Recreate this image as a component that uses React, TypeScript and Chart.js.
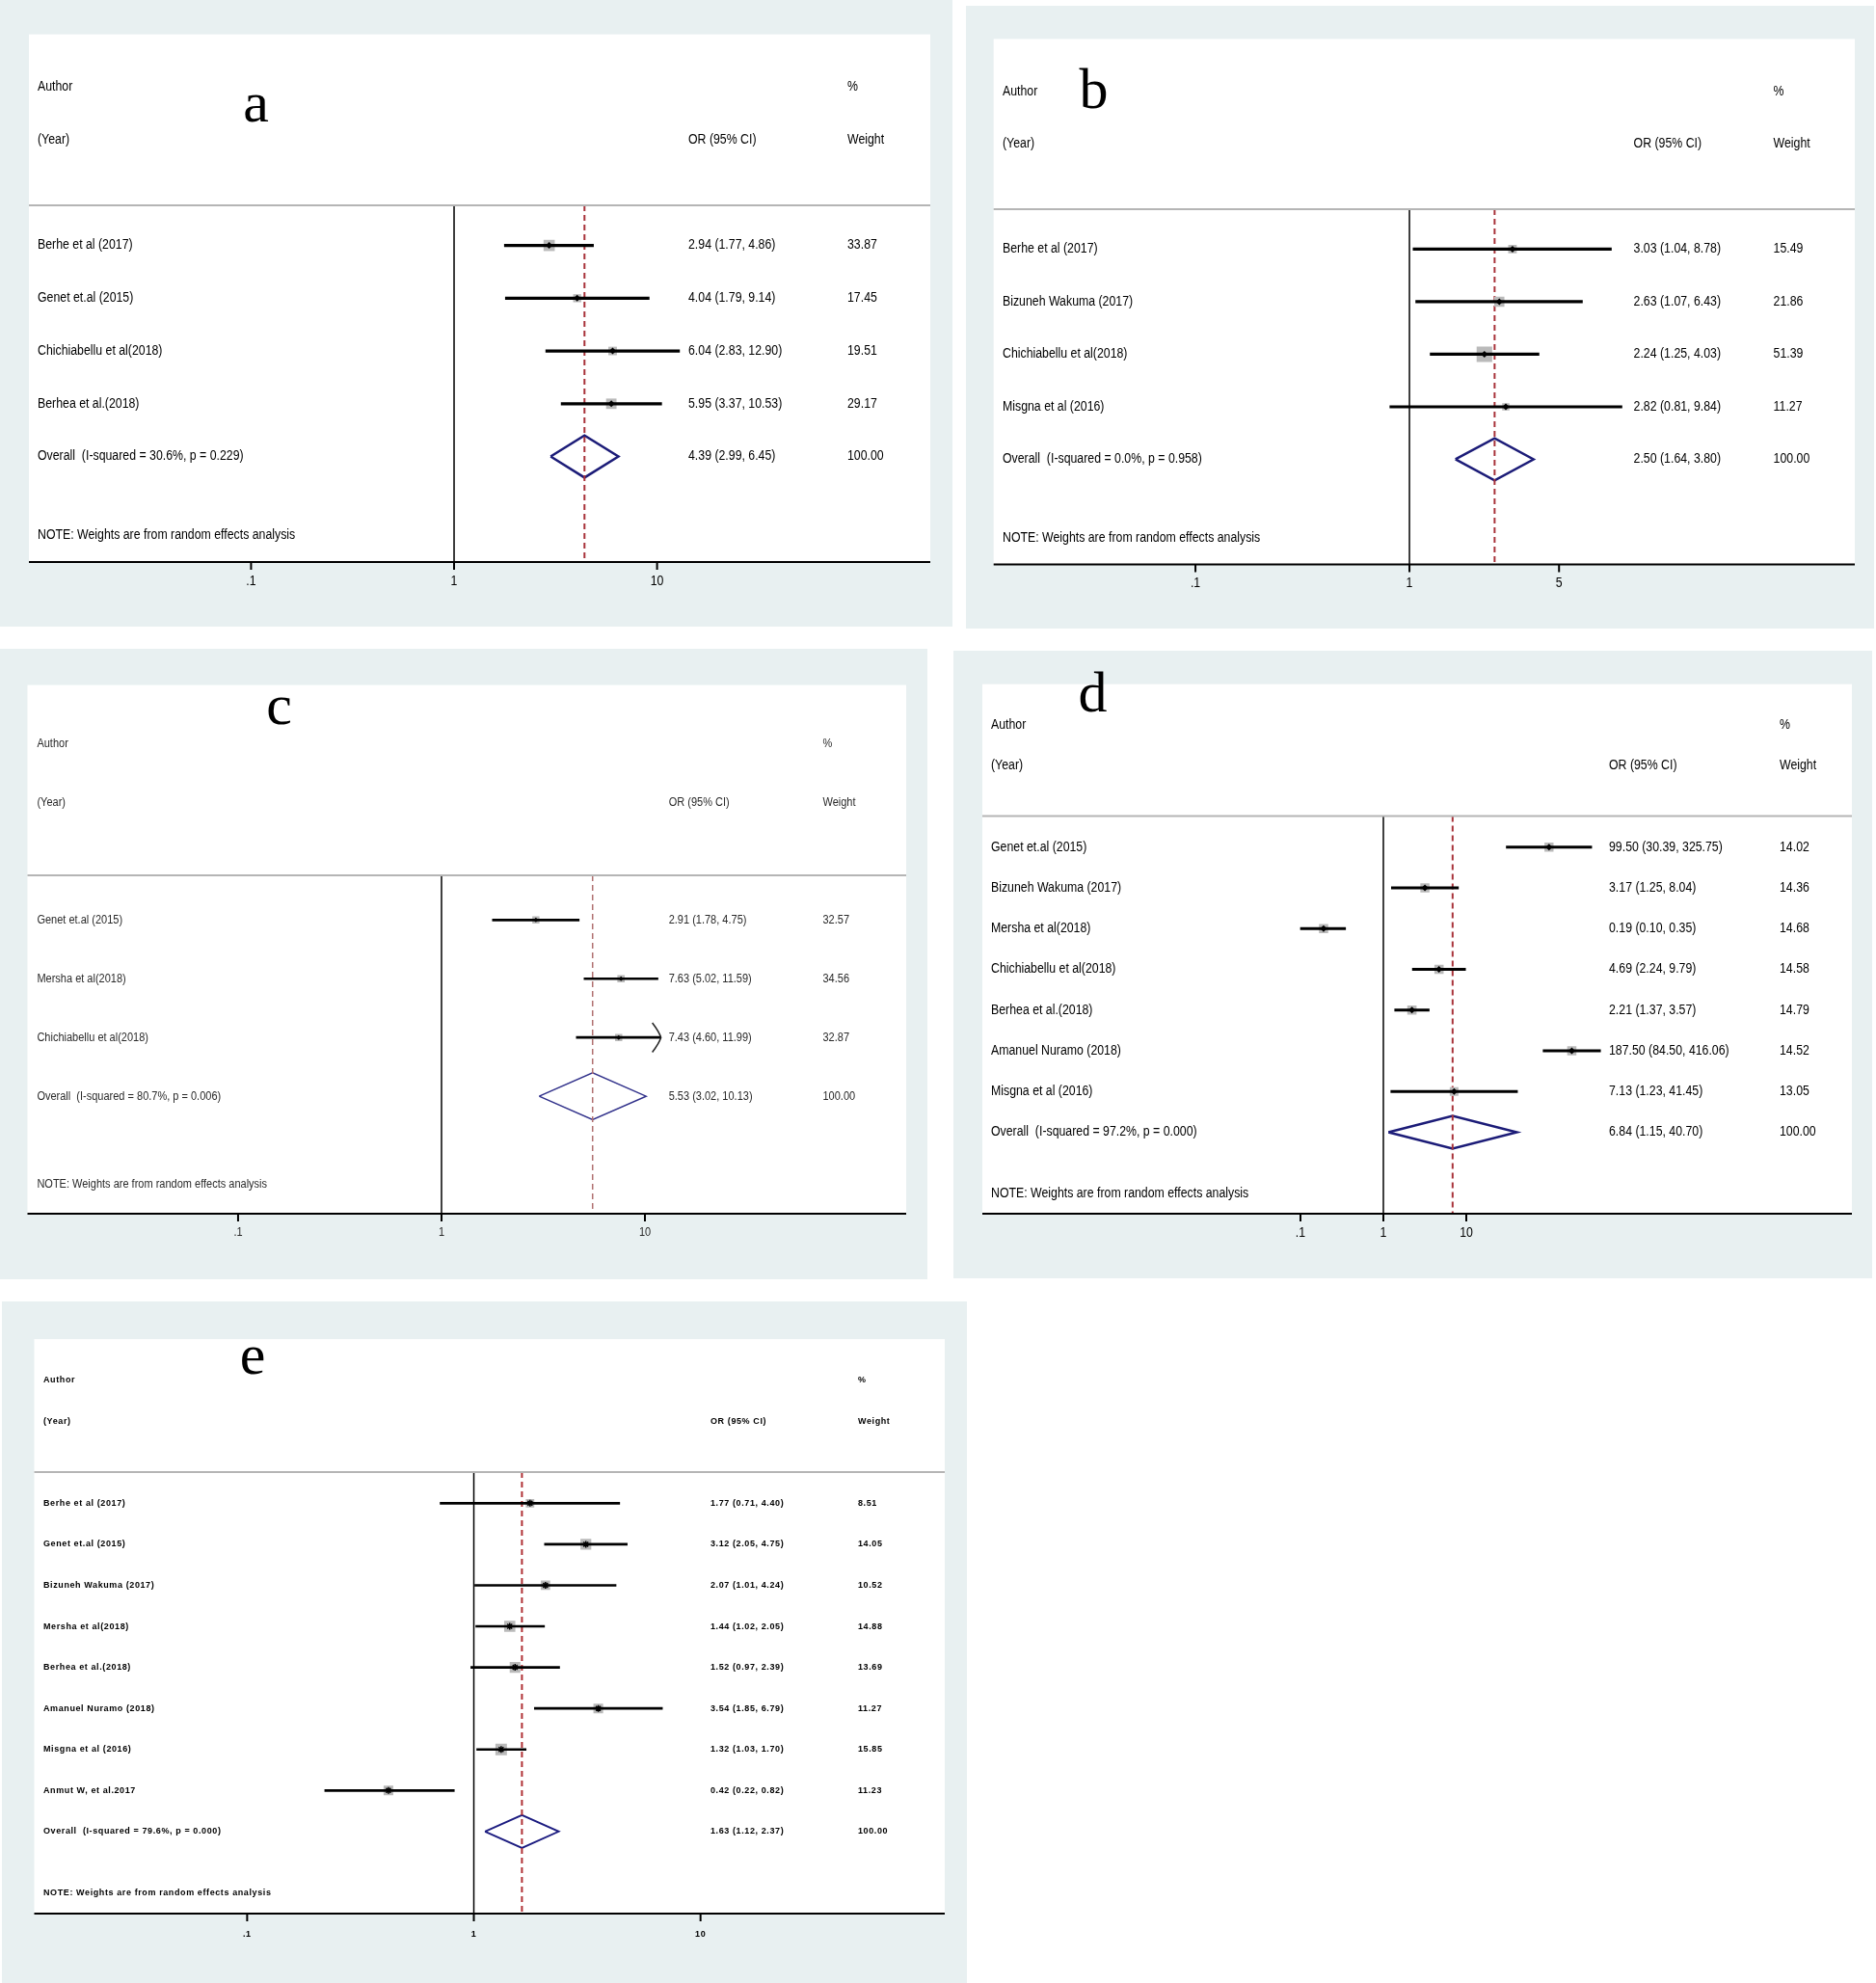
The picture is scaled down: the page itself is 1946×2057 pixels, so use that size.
import React, { useEffect, useRef } from "react";
import { Chart, registerables } from "chart.js";

Chart.register(...registerables);

// ---------------- data ----------------
const headerAuthor = ["Author", "(Year)"];
const headerOr = "OR (95% CI)";
const headerWeight = ["%", "Weight"];
const noteText = "NOTE: Weights are from random effects analysis";
const overallWeightLabel = "100.00";

const authorsA = ["Berhe et al (2017)", "Genet et.al (2015)", "Chichiabellu et al(2018)", "Berhea et al.(2018)"];
const orA = [2.94, 4.04, 6.04, 5.95];
const lowerA = [1.77, 1.79, 2.83, 3.37];
const upperA = [4.86, 9.14, 12.9, 10.53];
const weightA = [33.87, 17.45, 19.51, 29.17];
const overallA = [4.39, 2.99, 6.45];
const hetA = ["30.6%", "0.229"];
const ticksA = [0.1, 1, 10];
const tickLabelsA = [".1", "1", "10"];

const authorsB = ["Berhe et al (2017)", "Bizuneh Wakuma (2017)", "Chichiabellu et al(2018)", "Misgna et al (2016)"];
const orB = [3.03, 2.63, 2.24, 2.82];
const lowerB = [1.04, 1.07, 1.25, 0.81];
const upperB = [8.78, 6.43, 4.03, 9.84];
const weightB = [15.49, 21.86, 51.39, 11.27];
const overallB = [2.5, 1.64, 3.8];
const hetB = ["0.0%", "0.958"];
const ticksB = [0.1, 1, 5];
const tickLabelsB = [".1", "1", "5"];

const authorsC = ["Genet et.al (2015)", "Mersha et al(2018)", "Chichiabellu et al(2018)"];
const orC = [2.91, 7.63, 7.43];
const lowerC = [1.78, 5.02, 4.6];
const upperC = [4.75, 11.59, 11.99];
const weightC = [32.57, 34.56, 32.87];
const overallC = [5.53, 3.02, 10.13];
const hetC = ["80.7%", "0.006"];
const arrowsC = [false, false, true];
const ticksC = [0.1, 1, 10];
const tickLabelsC = [".1", "1", "10"];

const authorsD = [
  "Genet et.al (2015)",
  "Bizuneh Wakuma (2017)",
  "Mersha et al(2018)",
  "Chichiabellu et al(2018)",
  "Berhea et al.(2018)",
  "Amanuel Nuramo (2018)",
  "Misgna et al (2016)",
];
const orD = [99.5, 3.17, 0.19, 4.69, 2.21, 187.5, 7.13];
const lowerD = [30.39, 1.25, 0.1, 2.24, 1.37, 84.5, 1.23];
const upperD = [325.75, 8.04, 0.35, 9.79, 3.57, 416.06, 41.45];
const weightD = [14.02, 14.36, 14.68, 14.58, 14.79, 14.52, 13.05];
const overallD = [6.84, 1.15, 40.7];
const hetD = ["97.2%", "0.000"];
const ticksD = [0.1, 1, 10];
const tickLabelsD = [".1", "1", "10"];

const authorsE = [
  "Berhe et al (2017)",
  "Genet et.al (2015)",
  "Bizuneh Wakuma (2017)",
  "Mersha et al(2018)",
  "Berhea et al.(2018)",
  "Amanuel Nuramo (2018)",
  "Misgna et al (2016)",
  "Anmut W, et al.2017",
];
const orE = [1.77, 3.12, 2.07, 1.44, 1.52, 3.54, 1.32, 0.42];
const lowerE = [0.71, 2.05, 1.01, 1.02, 0.97, 1.85, 1.03, 0.22];
const upperE = [4.4, 4.75, 4.24, 2.05, 2.39, 6.79, 1.7, 0.82];
const weightE = [8.51, 14.05, 10.52, 14.88, 13.69, 11.27, 15.85, 11.23];
const overallE = [1.63, 1.12, 2.37];
const hetE = ["79.6%", "0.000"];
const ticksE = [0.1, 1, 10];
const tickLabelsE = [".1", "1", "10"];

// ---------------- styling / layout ----------------
const BG = "#e8f0f1";
const BOX_FILL = "#bababa";
const WHITE_ROW = -3;
const AUTHOR_ROW = -2;
const YEAR_ROW = -1;
const Y_MIN = 0.24;
const DIAMOND_HALF = 0.4;
const TICK_LEN = 8;

type Spec = {
  key: string;
  letter: string;
  authors: string[];
  or: number[];
  lo: number[];
  hi: number[];
  weight: number[];
  overall: number[];
  het: string[];
  ticks: number[];
  tickLabels: string[];
  arrows?: boolean[];
  left: number;
  top: number;
  width: number;
  height: number;
  pad: { left: number; right: number; top: number; bottom: number };
  xMin: number;
  xMax: number;
  colAuthor: number;
  colOr: number;
  colWeight: number;
  letterX: number;
  letterBase: number;
  font: string;
  scaleX: number;
  letterSpacing: string;
  textColor: string;
  boxK: number;
  ciWidth: number;
  diamondWidth: number;
  diamondColor: string;
  refColor: string;
  refWidth: number;
  dot: string;
  dotRadius: number;
  tickGap: number;
};

const baseStyle = {
  font: '14px "Liberation Sans", Arial, sans-serif',
  scaleX: 0.88,
  letterSpacing: "0px",
  textColor: "#000000",
  ciWidth: 2.5,
  diamondWidth: 2.5,
  diamondColor: "#1c1c78",
  refColor: "#a8323a",
  refWidth: 2,
  dot: "rectRot",
  dotRadius: 3.5,
  tickGap: 20,
};

const panels: Spec[] = [
  {
    ...baseStyle,
    key: "a", letter: "a",
    authors: authorsA, or: orA, lo: lowerA, hi: upperA, weight: weightA,
    overall: overallA, het: hetA, ticks: ticksA, tickLabels: tickLabelsA,
    left: 0, top: 0, width: 988, height: 650,
    pad: { left: 30, right: 23, top: 213, bottom: 67 },
    xMin: 0.00805, xMax: 221.7,
    colAuthor: 39, colOr: 714, colWeight: 879,
    letterX: 265.5, letterBase: 126,
    boxK: 2.0,
  },
  {
    ...baseStyle,
    key: "b", letter: "b",
    authors: authorsB, or: orB, lo: lowerB, hi: upperB, weight: weightB,
    overall: overallB, het: hetB, ticks: ticksB, tickLabels: tickLabelsB,
    left: 1002, top: 6, width: 942, height: 646,
    pad: { left: 28.7, right: 20, top: 211, bottom: 66.5 },
    xMin: 0.0114, xMax: 120.5,
    colAuthor: 38, colOr: 692.6, colWeight: 837.6,
    letterX: 132.5, letterBase: 105.6,
    boxK: 2.25,
  },
  {
    ...baseStyle,
    key: "c", letter: "c",
    authors: authorsC, or: orC, lo: lowerC, hi: upperC, weight: weightC,
    overall: overallC, het: hetC, ticks: ticksC, tickLabels: tickLabelsC, arrows: arrowsC,
    left: 0, top: 673, width: 962, height: 654,
    pad: { left: 28.5, right: 22, top: 235, bottom: 68 },
    xMin: 0.00922, xMax: 192.4,
    colAuthor: 38.4, colOr: 693.7, colWeight: 853.5,
    letterX: 289.5, letterBase: 78,
    font: '12.5px "Liberation Sans", Arial, sans-serif',
    textColor: "#2a2a2a",
    boxK: 1.3, ciWidth: 2, diamondWidth: 1.5, diamondColor: "#30308a",
    refColor: "#b07070", refWidth: 1.5, dotRadius: 2.5,
  },
  {
    ...baseStyle,
    key: "d", letter: "d",
    authors: authorsD, or: orD, lo: lowerD, hi: upperD, weight: weightD,
    overall: overallD, het: hetD, ticks: ticksD, tickLabels: tickLabelsD,
    left: 989, top: 675, width: 953, height: 651,
    pad: { left: 30, right: 21, top: 171.6, bottom: 67 },
    xMin: 1.455e-5, xMax: 4.48e5,
    colAuthor: 39, colOr: 680, colWeight: 857,
    letterX: 144.5, letterBase: 63.4,
    boxK: 2.5,
  },
  {
    ...baseStyle,
    key: "e", letter: "e",
    authors: authorsE, or: orE, lo: lowerE, hi: upperE, weight: weightE,
    overall: overallE, het: hetE, ticks: ticksE, tickLabels: tickLabelsE,
    left: 2, top: 1350, width: 1001, height: 707,
    pad: { left: 33.5, right: 23, top: 177, bottom: 72 },
    xMin: 0.0115, xMax: 119.5,
    colAuthor: 43, colOr: 735, colWeight: 888,
    letterX: 260, letterBase: 75,
    font: 'bold 9px "Liberation Sans", Arial, sans-serif',
    scaleX: 1, letterSpacing: "0.6px",
    boxK: 3.0, ciWidth: 2, diamondWidth: 1.8, diamondColor: "#1c1c80",
    refColor: "#b03034", refWidth: 2, dot: "star", dotRadius: 3.5, tickGap: 22,
  },
];

const fmt = (v: number) => v.toFixed(2);

function drawText(ctx: CanvasRenderingContext2D, s: string, x: number, y: number, p: Spec, align: CanvasTextAlign = "left") {
  ctx.save();
  ctx.font = p.font;
  (ctx as any).letterSpacing = p.letterSpacing;
  ctx.fillStyle = p.textColor;
  ctx.textBaseline = "middle";
  ctx.textAlign = align;
  ctx.translate(x, y);
  ctx.scale(p.scaleX, 1);
  ctx.fillText(s, 0, 0);
  ctx.restore();
}

function ForestPanel({ p }: { p: Spec }) {
  const ref = useRef<HTMLCanvasElement>(null);

  useEffect(() => {
    const canvas = ref.current;
    if (!canvas) return;
    const n = p.or.length;
    const rows = p.or.map((_, i) => i + 1);
    const overallRow = n + 1;
    const noteRow = n + 2.5;
    const yMax = n + 3;
    const [ovEst, ovLo, ovHi] = p.overall;

    const plugin = {
      id: "forest_" + p.key,
      beforeDraw(chart: any) {
        const { ctx, chartArea: ca } = chart;
        const y = chart.scales.y;
        ctx.save();
        ctx.fillStyle = BG;
        ctx.fillRect(0, 0, chart.width, chart.height);
        const top = y.getPixelForValue(WHITE_ROW);
        ctx.fillStyle = "#ffffff";
        ctx.fillRect(ca.left, top, ca.right - ca.left, ca.bottom - top);
        ctx.restore();
      },
      afterDraw(chart: any) {
        const { ctx, chartArea: ca } = chart;
        const x = chart.scales.x;
        const y = chart.scales.y;
        ctx.save();
        // header rule
        ctx.strokeStyle = "#b5b5b5";
        ctx.lineWidth = 2;
        ctx.beginPath();
        ctx.moveTo(ca.left, ca.top);
        ctx.lineTo(ca.right, ca.top);
        ctx.stroke();
        // x axis
        ctx.strokeStyle = "#000";
        ctx.lineWidth = 2;
        ctx.beginPath();
        ctx.moveTo(ca.left, ca.bottom);
        ctx.lineTo(ca.right, ca.bottom);
        ctx.stroke();
        p.ticks.forEach((t, i) => {
          const px = x.getPixelForValue(t);
          ctx.beginPath();
          ctx.moveTo(px, ca.bottom);
          ctx.lineTo(px, ca.bottom + TICK_LEN);
          ctx.stroke();
          drawText(ctx, p.tickLabels[i], px, ca.bottom + p.tickGap, p, "center");
        });
        // arrows for clipped CIs
        if (p.arrows) {
          ctx.strokeStyle = "#222";
          ctx.lineWidth = 1.5;
          p.arrows.forEach((a, i) => {
            if (!a) return;
            const px = x.getPixelForValue(p.hi[i]);
            const py = y.getPixelForValue(rows[i]);
            const dy = y.getPixelForValue(rows[i] + 0.25) - py;
            ctx.beginPath();
            ctx.moveTo(px - 9, py - dy);
            ctx.quadraticCurveTo(px - 2, py - dy * 0.4, px, py);
            ctx.quadraticCurveTo(px - 2, py + dy * 0.4, px - 9, py + dy);
            ctx.stroke();
          });
        }
        // header texts
        const yA = y.getPixelForValue(AUTHOR_ROW);
        const yY = y.getPixelForValue(YEAR_ROW);
        drawText(ctx, headerAuthor[0], p.colAuthor, yA, p);
        drawText(ctx, headerAuthor[1], p.colAuthor, yY, p);
        drawText(ctx, headerOr, p.colOr, yY, p);
        drawText(ctx, headerWeight[0], p.colWeight, yA, p);
        drawText(ctx, headerWeight[1], p.colWeight, yY, p);
        // study rows
        rows.forEach((r, i) => {
          const py = y.getPixelForValue(r);
          drawText(ctx, p.authors[i], p.colAuthor, py, p);
          drawText(ctx, `${fmt(p.or[i])} (${fmt(p.lo[i])}, ${fmt(p.hi[i])})`, p.colOr, py, p);
          drawText(ctx, fmt(p.weight[i]), p.colWeight, py, p);
        });
        // overall
        const po = y.getPixelForValue(overallRow);
        drawText(ctx, `Overall  (I-squared = ${p.het[0]}, p = ${p.het[1]})`, p.colAuthor, po, p);
        drawText(ctx, `${fmt(ovEst)} (${fmt(ovLo)}, ${fmt(ovHi)})`, p.colOr, po, p);
        drawText(ctx, overallWeightLabel, p.colWeight, po, p);
        // note
        drawText(ctx, noteText, p.colAuthor, y.getPixelForValue(noteRow), p);
        // panel letter
        ctx.font = '60px "Liberation Serif", "Times New Roman", serif';
        (ctx as any).letterSpacing = "0px";
        ctx.fillStyle = "#000";
        ctx.textAlign = "center";
        ctx.textBaseline = "alphabetic";
        ctx.fillText(p.letter, p.letterX, p.letterBase);
        ctx.restore();
      },
    };

    const chart = new Chart(canvas, {
      type: "scatter",
      data: {
        datasets: [
          {
            type: "scatter",
            label: "OR",
            data: rows.map((r, i) => ({ x: p.or[i], y: r })),
            pointStyle: p.dot as any,
            pointRadius: p.dotRadius,
            backgroundColor: "#000",
            borderColor: "#000",
            borderWidth: p.dot === "star" ? 1.5 : 0,
          },
          {
            type: "bar",
            label: "95% CI",
            indexAxis: "y",
            data: rows.map((r, i) => ({ x: [p.lo[i], p.hi[i]], y: r })) as any,
            backgroundColor: "#000",
            borderWidth: 0,
            barThickness: p.ciWidth,
          } as any,
          {
            type: "scatter",
            label: "Weight",
            data: rows.map((r, i) => ({ x: p.or[i], y: r })),
            pointStyle: "rect",
            pointRadius: p.weight.map((w) => (p.boxK * Math.sqrt(w)) / Math.SQRT2),
            backgroundColor: BOX_FILL,
            borderWidth: 0,
          },
          {
            type: "line",
            label: "Overall estimate",
            data: [
              { x: ovEst, y: Y_MIN },
              { x: ovEst, y: yMax },
            ],
            borderColor: p.refColor,
            borderWidth: p.refWidth,
            borderDash: [6, 4],
            pointRadius: 0,
            fill: false,
          },
          {
            type: "line",
            label: "Overall",
            data: [
              { x: ovLo, y: overallRow },
              { x: ovEst, y: overallRow - DIAMOND_HALF },
              { x: ovHi, y: overallRow },
              { x: ovEst, y: overallRow + DIAMOND_HALF },
              { x: ovLo, y: overallRow },
            ],
            borderColor: p.diamondColor,
            borderWidth: p.diamondWidth,
            borderJoinStyle: "miter",
            pointRadius: 0,
            tension: 0,
            fill: false,
          },
          {
            type: "line",
            label: "No effect",
            data: [
              { x: 1, y: Y_MIN },
              { x: 1, y: yMax },
            ],
            borderColor: "#000",
            borderWidth: 1.5,
            pointRadius: 0,
            fill: false,
          },
        ],
      },
      options: {
        responsive: false,
        devicePixelRatio: 1,
        animation: false,
        events: [],
        layout: { padding: p.pad },
        plugins: { legend: { display: false }, tooltip: { enabled: false } },
        scales: {
          x: { type: "logarithmic", min: p.xMin, max: p.xMax, display: false, bounds: "data", offset: false, beginAtZero: false } as any,
          y: { type: "linear", min: Y_MIN, max: yMax, reverse: true, display: false, offset: false, grid: { offset: false } } as any,
        },
      },
      plugins: [plugin],
    });
    return () => chart.destroy();
  }, [p]);

  return (
    <canvas
      ref={ref}
      width={p.width}
      height={p.height}
      style={{ position: "absolute", left: p.left, top: p.top, width: p.width, height: p.height }}
    />
  );
}

export default function App() {
  useEffect(() => {
    document.body.style.margin = "0";
  }, []);
  return (
    <div style={{ position: "absolute", left: 0, top: 0, width: 1946, height: 2057, background: "#ffffff", overflow: "hidden" }}>
      {panels.map((p) => (
        <ForestPanel key={p.key} p={p} />
      ))}
    </div>
  );
}
